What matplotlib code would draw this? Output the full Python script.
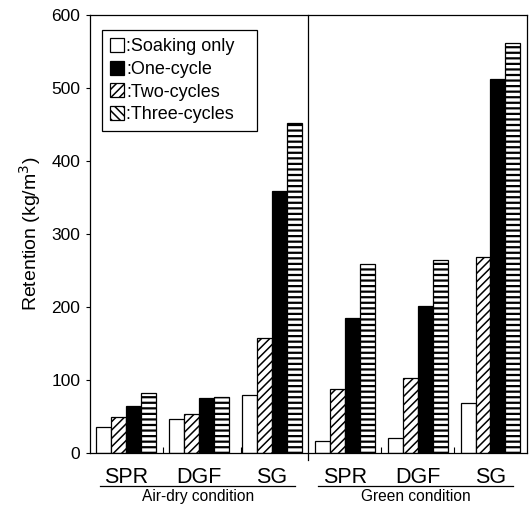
import numpy as np
import matplotlib as mpl
import matplotlib.pyplot as plt
from matplotlib.patches import Patch
from matplotlib.transforms import blended_transform_factory

mpl.rcParams['font.family'] = 'Liberation Sans'
mpl.rcParams['hatch.linewidth'] = 1.1
mpl.rcParams['hatch.color'] = 'black'

# Retention values (kg/m3); groups are Air-dry SPR, DGF, SG then Green SPR, DGF, SG
species = ['SPR', 'DGF', 'SG', 'SPR', 'DGF', 'SG']
conditions = ['Air-dry condition', 'Green condition']
soaking_only = [35, 47, 79, 17, 21, 69]
one_cycle = [64, 76, 359, 185, 201, 513]
two_cycles = [49, 54, 157, 87, 103, 268]
three_cycles = [82, 77, 452, 259, 265, 562]

fig = plt.figure(figsize=(5.29, 5.05), dpi=100)
ax = fig.add_axes([0.170, 0.103, 0.826, 0.867])

centers = np.arange(len(species)) + 0.5
w = 0.205
# bar order inside each group: soaking, two-cycles, one-cycle, three-cycles
ax.bar(centers - 1.5 * w, soaking_only, w, facecolor='white', edgecolor='black', linewidth=0.9)
ax.bar(centers - 0.5 * w, two_cycles, w, facecolor='white', edgecolor='black', linewidth=0.9, hatch='////')
ax.bar(centers + 0.5 * w, one_cycle, w, facecolor='black', edgecolor='black', linewidth=0.9)
stripes = ax.bar(centers + 1.5 * w, three_cycles, w, facecolor='white', edgecolor='black',
                 linewidth=0.9, hatch='---')
for p in stripes:
    if hasattr(p, 'set_hatch_linewidth'):
        p.set_hatch_linewidth(1.6)

ax.set_xlim(0, 6)
ax.set_ylim(0, 600)
ax.set_yticks(np.arange(0, 601, 100))
ax.tick_params(axis='y', direction='out', length=3, width=0.8, labelsize=12.5, pad=4)
ax.set_ylabel('Retention (kg/m$^3$)', fontsize=14, labelpad=6)

ax.set_xticks(centers)
ax.set_xticklabels(species, fontsize=15.5)
ax.tick_params(axis='x', which='major', length=0, pad=10)
ax.set_xticks([1, 2.07, 4, 5], minor=True)
ax.tick_params(axis='x', which='minor', direction='in', length=4, width=0.8)

for s in ax.spines.values():
    s.set_linewidth(0.9)

# divider between the two drying conditions
ax.axvline(3.0, ymin=-0.015, ymax=1, color='black', linewidth=0.9, clip_on=False)

# condition labels with underline
trans = blended_transform_factory(ax.transData, ax.transAxes)
for (x0, x1), name in zip([(0.14, 2.82), (3.13, 5.81)], conditions):
    ax.plot([x0, x1], [-0.075, -0.075], color='black', linewidth=0.9,
            transform=trans, clip_on=False)
    ax.text((x0 + x1) / 2, -0.100, name, transform=trans, ha='center', va='center',
            fontsize=11.2)

handles = [
    Patch(facecolor='white', edgecolor='black', linewidth=0.9),
    Patch(facecolor='black', edgecolor='black', linewidth=0.9),
    Patch(facecolor='white', edgecolor='black', linewidth=0.9, hatch='////'),
    Patch(facecolor='white', edgecolor='black', linewidth=0.9, hatch='\\\\\\\\'),
]
labels = [':Soaking only', ':One-cycle', ':Two-cycles', ':Three-cycles   ']
leg = ax.legend(handles, labels, loc='upper left', bbox_to_anchor=(0.027, 0.966),
                fontsize=13, frameon=True, fancybox=False, framealpha=1,
                handlelength=0.8, handleheight=0.8, handletextpad=0.1,
                labelspacing=0.3, borderpad=0.45, borderaxespad=0)
leg.get_frame().set_edgecolor('black')
leg.get_frame().set_linewidth(0.9)

fig.savefig('out.png', dpi=100)
